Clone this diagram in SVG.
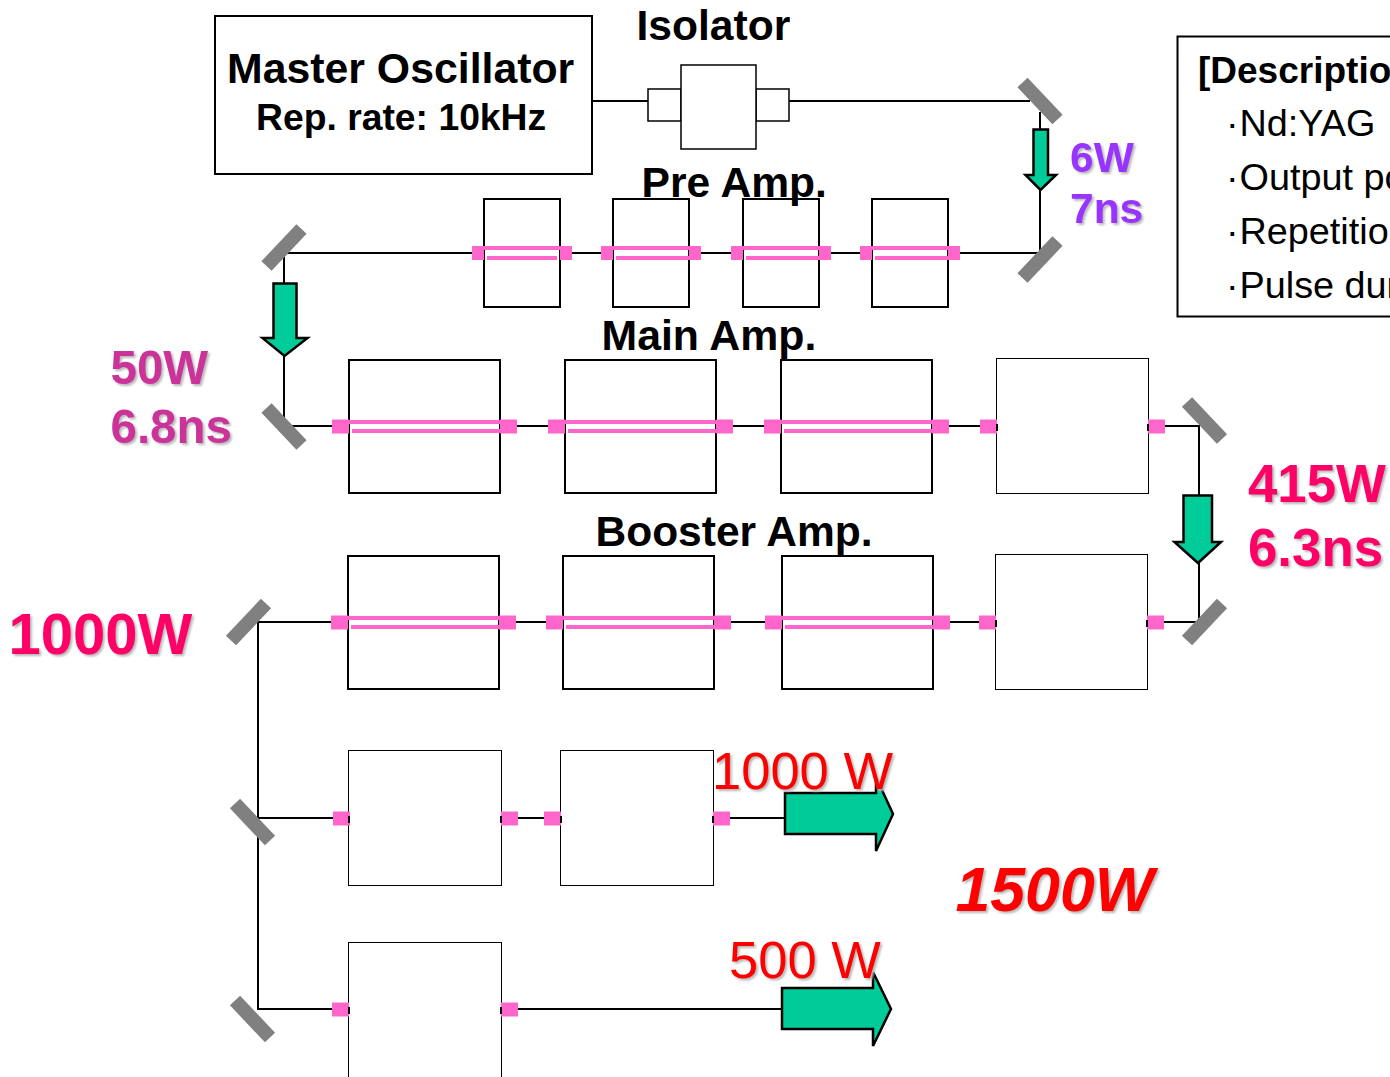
<svg xmlns="http://www.w3.org/2000/svg" width="1390" height="1077" viewBox="0 0 1390 1077">
<style>
text{font-family:"Liberation Sans",Arial,sans-serif;fill:#000}
.b{font-weight:bold}
.box{fill:#fff;stroke:#000;stroke-width:2}
.thin{fill:#fff;stroke:#000;stroke-width:1}
.iso{fill:#fff;stroke:#000;stroke-width:1.500}
.p{fill:#ff66cc}
.m{stroke:#808080;stroke-width:14;fill:none}
.c{stroke:#000;stroke-width:2;fill:none}
.ga{fill:#00cc99;stroke:#000;stroke-width:2.500;stroke-linejoin:miter}
.sh{filter:drop-shadow(2px 2px 1px #b8b8b8)}
.mag{fill:#cc3399;font-weight:bold;font-size:47.500px}
.pur{fill:#9933ff;font-weight:bold;font-size:42.500px}
.rb{fill:#ff0066;font-weight:bold}
.red{fill:#ff0000;font-size:52.500px}
.d{font-size:37.800px}
</style>
<defs>
<line id="mb" class="m" x1="-17.500" y1="-18.500" x2="17.500" y2="18.500"/>
<line id="mf" class="m" x1="-17.500" y1="18.500" x2="17.500" y2="-18.500"/>
<rect id="sq" class="p" x="0" y="0" width="17" height="14"/>
<rect id="tk" x="-1" y="-1" width="2" height="7" fill="#000"/>
</defs>
<g id="connectors">
<path class="c" d="M592 101H648M789 101H1030M1040 112V253H284V426H340M340 426H1199V622H258V1009H340M258 818H340M501 818H785M501 1009H782"/>
</g>
<g id="master-oscillator"><rect class="box" x="215" y="16" width="377" height="158"/>
<text class="b" x="227" y="83" font-size="42.800">Master Oscillator</text>
<text class="b" x="256" y="129.500" font-size="37.300">Rep. rate: 10kHz</text></g>
<g id="isolator"><rect class="iso" x="648" y="89" width="33" height="32"/><rect class="iso" x="756" y="89" width="33" height="32"/><rect class="iso" x="681" y="65" width="75" height="84"/>
<text class="b" x="636.500" y="40" font-size="42.600">Isolator</text></g>
<g id="mirrors">
<use href="#mb" x="1040" y="101"/><use href="#mf" x="1040" y="259.500"/><use href="#mf" x="284" y="247.500"/><use href="#mb" x="284" y="426.500"/>
<use href="#mb" x="1204.500" y="420.500"/><use href="#mf" x="1204.500" y="622"/><use href="#mf" x="248.500" y="622"/><use href="#mb" x="252.500" y="822"/><use href="#mb" x="252.500" y="1019"/>
</g>
<g id="pre-amp">
<g id="pre1"><rect class="box" x="484" y="199" width="76" height="108"/><rect class="p" x="472" y="246" width="12" height="14"/><rect class="p" x="560" y="246" width="12" height="14"/><rect class="p" x="484" y="246" width="76" height="4"/><rect class="p" x="487" y="256" width="70" height="4"/></g>
<g id="pre2"><rect class="box" x="613" y="199" width="76" height="108"/><rect class="p" x="601" y="246" width="12" height="14"/><rect class="p" x="689" y="246" width="12" height="14"/><rect class="p" x="613" y="246" width="76" height="4"/><rect class="p" x="616" y="256" width="73" height="4"/></g>
<g id="pre3"><rect class="box" x="743" y="199" width="76" height="108"/><rect class="p" x="731" y="246" width="12" height="14"/><rect class="p" x="819" y="246" width="12" height="14"/><rect class="p" x="743" y="246" width="76" height="4"/><rect class="p" x="746" y="256" width="73" height="4"/></g>
<g id="pre4"><rect class="box" x="872" y="199" width="76" height="108"/><rect class="p" x="860" y="246" width="12" height="14"/><rect class="p" x="948" y="246" width="12" height="14"/><rect class="p" x="872" y="246" width="76" height="4"/><rect class="p" x="875" y="256" width="73" height="4"/></g>
<text class="b" x="641.500" y="197" font-size="42.600">Pre Amp.</text>
</g>
<g id="main-amp">
<g id="main1"><rect class="box" x="349" y="360" width="151" height="133"/><use href="#sq" x="332" y="419.500"/><use href="#sq" x="500" y="419.500"/><rect class="p" x="349" y="420" width="151" height="4"/><rect class="p" x="352" y="429" width="148" height="4"/></g>
<g id="main2"><rect class="box" x="565" y="360" width="151" height="133"/><use href="#sq" x="548" y="419.500"/><use href="#sq" x="716" y="419.500"/><rect class="p" x="565" y="420" width="151" height="4"/><rect class="p" x="568" y="429" width="148" height="4"/></g>
<g id="main3"><rect class="box" x="781" y="360" width="151" height="133"/><use href="#sq" x="764" y="419.500"/><use href="#sq" x="932" y="419.500"/><rect class="p" x="781" y="420" width="151" height="4"/><rect class="p" x="784" y="429" width="148" height="4"/></g>
<g id="main4"><rect class="thin" x="996.500" y="358.500" width="152" height="135"/><use href="#sq" x="980" y="419.500"/><use href="#sq" x="1148" y="419.500"/><use href="#tk" x="997" y="425"/><use href="#tk" x="1148" y="425"/></g>
<text class="b" x="601.500" y="350" font-size="42.800">Main Amp.</text>
</g>
<g id="booster-amp">
<g id="boost1"><rect class="box" x="348" y="556" width="151" height="133"/><use href="#sq" x="331" y="615.500"/><use href="#sq" x="499" y="615.500"/><rect class="p" x="348" y="616" width="151" height="4"/><rect class="p" x="351" y="625" width="148" height="4"/></g>
<g id="boost2"><rect class="box" x="563" y="556" width="151" height="133"/><use href="#sq" x="546" y="615.500"/><use href="#sq" x="714" y="615.500"/><rect class="p" x="563" y="616" width="151" height="4"/><rect class="p" x="566" y="625" width="148" height="4"/></g>
<g id="boost3"><rect class="box" x="782" y="556" width="151" height="133"/><use href="#sq" x="765" y="615.500"/><use href="#sq" x="933" y="615.500"/><rect class="p" x="782" y="616" width="151" height="4"/><rect class="p" x="785" y="625" width="148" height="4"/></g>
<g id="boost4"><rect class="thin" x="995.500" y="554.500" width="152" height="135"/><use href="#sq" x="979" y="615.500"/><use href="#sq" x="1147" y="615.500"/><use href="#tk" x="996" y="621"/><use href="#tk" x="1147" y="621"/></g>
<text class="b" x="595.500" y="546" font-size="42.500">Booster Amp.</text>
</g>
<g id="output-1000">
<rect class="thin" x="348.500" y="750.500" width="153" height="135"/><use href="#sq" x="333" y="811.500"/><use href="#sq" x="501" y="811.500"/><use href="#tk" x="349" y="817"/><use href="#tk" x="501" y="817"/>
<rect class="thin" x="560.500" y="750.500" width="153" height="135"/><use href="#sq" x="544" y="811.500"/><use href="#sq" x="713" y="811.500"/><use href="#tk" x="561" y="817"/><use href="#tk" x="713" y="817"/>
</g>
<g id="output-500">
<rect class="thin" x="348.500" y="942.500" width="153" height="140"/><use href="#sq" x="332" y="1002.500"/><use href="#sq" x="501" y="1002.500"/><use href="#tk" x="349" y="1008"/><use href="#tk" x="501" y="1008"/>
</g>
<g id="arrows">
<path class="ga" d="M1033.500 129.500H1048V175H1056L1040.500 190L1025.500 175H1033.500Z"/>
<path class="ga" d="M273.500 283.500H296.500V338H307.500L284.500 356L262.500 338H273.500Z"/>
<path class="ga" d="M1183.500 495.500H1212V542H1221L1198 563L1174.500 542H1183.500Z"/>
<path class="ga" d="M785 793H876V777L893 814L876 851V834H785Z"/>
<path class="ga" d="M782 988H873V972L891 1009L873 1046V1029H782Z"/>
</g>
<g id="labels">
<g class="sh"><text class="mag" x="110.500" y="384">50W</text><text class="mag" x="110.500" y="442.500">6.8ns</text></g>
<g class="sh"><text class="pur" x="1070" y="172">6W</text><text class="pur" x="1070" y="223">7ns</text></g>
<g class="sh"><text class="rb" x="1248" y="502" font-size="52.800">415W</text><text class="rb" x="1248" y="566" font-size="52.800">6.3ns</text></g>
<g class="sh"><text class="rb" x="8.500" y="654" font-size="58">1000W</text></g>
<g class="sh"><text class="red" x="712" y="789">1000 W</text><text class="red" x="729" y="978" font-size="53">500 W</text></g>
<g class="sh"><text x="955.500" y="911" font-size="62.600" font-weight="bold" font-style="italic" style="fill:#ff0000">1500W</text></g>
</g>
<g id="description"><rect class="box" x="1177.500" y="36.500" width="230" height="280"/>
<text class="b" x="1198" y="83" font-size="37">[Description</text>
<text class="d" x="1226" y="136">·<tspan x="1239.500">Nd:YAG</tspan></text>
<text class="d" x="1226" y="190">·<tspan x="1239.500">Output po</tspan></text>
<text class="d" x="1226" y="244">·<tspan x="1239.500">Repetition</tspan></text>
<text class="d" x="1226" y="298">·<tspan x="1239.500">Pulse dur</tspan></text>
</g>
</svg>
